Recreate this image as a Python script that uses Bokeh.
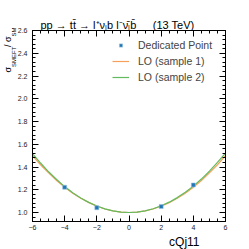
import numpy as np
from bokeh.plotting import figure
from bokeh.models import (LinearAxis, FixedTicker, Legend, LegendItem, Range1d,
                          NumeralTickFormatter, CustomJSTickFormatter, Title)
from bokeh.embed import file_html
from bokeh.resources import INLINE

# ---------------- data ----------------
point_x = [-4, -2, 2, 4]
point_y = [1.222, 1.042, 1.052, 1.242]

curve_x = [-6, -5.5, -5, -4.5, -4, -3.5, -3, -2.5, -2, -1.5, -1, -0.5, 0,
           0.5, 1, 1.5, 2, 2.5, 3, 3.5, 4, 4.5, 5, 5.5, 6]
lo_sample1 = [1.500, 1.420, 1.348, 1.281, 1.222, 1.170, 1.125, 1.087, 1.056, 1.031,
              1.014, 1.003, 1.000, 1.003, 1.014, 1.031, 1.056, 1.087, 1.125, 1.170,
              1.222, 1.281, 1.348, 1.420, 1.500]
lo_sample2 = [1.517, 1.435, 1.358, 1.290, 1.228, 1.174, 1.128, 1.089, 1.057, 1.032,
              1.014, 1.003, 1.000, 1.004, 1.015, 1.033, 1.059, 1.091, 1.131, 1.178,
              1.232, 1.294, 1.363, 1.441, 1.523]

x_ticks = [-6, -4, -2, 0, 2, 4, 6]
y_ticks = [1.0, 1.2, 1.4, 1.6, 1.8, 2.0, 2.2, 2.4, 2.6]

# ---------------- layout ----------------
X0, X1 = -6.0, 6.0
Y0, Y1 = 0.921, 2.6
BL, BT = 32, 30
FW, FH = 193, 191
W, H = 249, 249
BR, BB = W - BL - FW, H - BT - FH
FONT = "Liberation Sans"
EM, EN, THIN = "\u2003", "\u2002", "\u2009"

p = figure(width=W, height=H,
           x_range=Range1d(X0, X1), y_range=Range1d(Y0, Y1),
           min_border_left=BL, min_border_right=BR, min_border_top=BT, min_border_bottom=BB,
           output_backend="svg", toolbar_location=None, x_axis_location=None,
           y_axis_location=None)
p.grid.visible = False
p.outline_line_color = "black"
p.outline_line_width = 1
p.background_fill_color = "white"
p.border_fill_color = "white"

xminor = list(np.arange(-6, 6.001, 0.5))
yminor = list(np.round(np.arange(0.92, 2.601, 0.04), 3))

def style_axis(ax, ticks, minor, show_labels):
    ax.ticker = FixedTicker(ticks=ticks, minor_ticks=minor)
    ax.major_tick_in = 6
    ax.major_tick_out = 0
    ax.minor_tick_in = 3
    ax.minor_tick_out = 0
    ax.axis_line_color = "black"
    ax.major_tick_line_color = "black"
    ax.minor_tick_line_color = "black"
    ax.major_label_text_font = FONT
    ax.major_label_text_font_size = "7px"
    ax.major_label_text_color = "#222222"
    if not show_labels:
        ax.formatter = CustomJSTickFormatter(code="return ''")
        ax.major_label_standoff = 0

bx = LinearAxis(major_label_standoff=3)
style_axis(bx, x_ticks, xminor, True)
p.add_layout(bx, "below")
tx = LinearAxis()
style_axis(tx, x_ticks, xminor, False)
p.add_layout(tx, "above")
ly = LinearAxis(major_label_standoff=5, formatter=NumeralTickFormatter(format="0.0"))
style_axis(ly, y_ticks, yminor, True)
p.add_layout(ly, "left")
ry = LinearAxis()
style_axis(ry, y_ticks, yminor, False)
p.add_layout(ry, "right")

# ---------------- marks ----------------
r1 = p.line(curve_x, lo_sample1, line_color="#f7a05c", line_width=1.2)
r2 = p.line(curve_x, lo_sample2, line_color="#62bb5e", line_width=1.2)
r0 = p.scatter(point_x, point_y, marker="square", size=4, fill_color="#1f77b4",
               line_color="#9cc3e0", line_width=0.6)

legend = Legend(items=[LegendItem(label="Dedicated Point", renderers=[r0]),
                       LegendItem(label="LO (sample 1)", renderers=[r1]),
                       LegendItem(label="LO (sample 2)", renderers=[r2])],
                location=(80, 136), padding=0, margin=0, spacing=0,
                glyph_width=17, glyph_height=8, label_height=16, label_standoff=9,
                label_text_font=FONT, label_text_font_size="10.5px",
                border_line_alpha=0, background_fill_alpha=0)
p.add_layout(legend, "center")

# ---------------- texts (titles in the side panels) ----------------
def title(txt, size, align, offset, standoff):
    return Title(text=txt, align=align, offset=offset, standoff=standoff,
                 text_font=FONT, text_font_size=f"{size}px", text_font_style="normal",
                 text_color="black")

p.add_layout(title("pp → tt̄ → l⁺νₗb  l⁻ν̄ₗb̄" + EM + EN + "(13 TeV)", 11, "left", 8, 0),
             "above")
p.add_layout(title("cQj11", 12, "right", 26, 0), "below")
# y-axis title: subscripts column (nearer the axis) and main column
p.add_layout(title("SMEFT" + EM + EN + THIN + "SM", 6, "right", -3, -4), "left")
p.add_layout(title("σ" + EM + EM + THIN + "/ σ" + EM, 9, "right", -3, -5), "left")

open("out.html", "w").write(file_html(p, INLINE))
